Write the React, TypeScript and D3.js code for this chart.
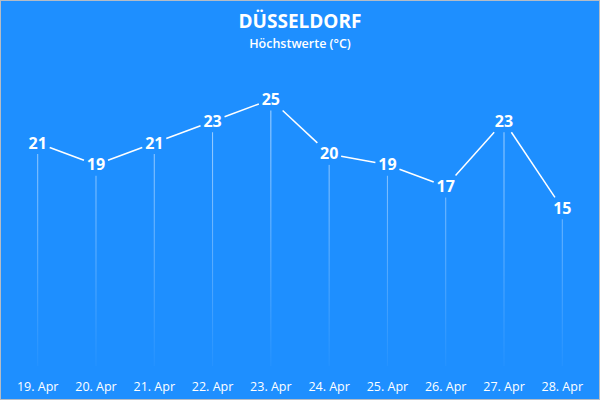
import React, { useEffect } from "react";
import * as d3 from "d3";

const days = ["19. Apr", "20. Apr", "21. Apr", "22. Apr", "23. Apr", "24. Apr", "25. Apr", "26. Apr", "27. Apr", "28. Apr"];
const highs = [21, 19, 21, 23, 25, 20, 19, 17, 23, 15];
const title = "DÜSSELDORF";
const subtitle = "Höchstwerte (°C)";

const W = 600;
const H = 400;
const BG = "#1E8FFF";
const FONT = "'Open Sans', 'Noto Sans', sans-serif";

export default function App() {
  useEffect(() => {
    document.body.style.margin = "0";
  }, []);

  const x = d3.scalePoint<string>().domain(days).range([37.7, 562.3]);
  const y = d3.scaleLinear().domain([0, 25]).range([371.5, 99.5]);

  const hw = 12;
  const hh = 11;
  const clip = (x0: number, y0: number, x1: number, y1: number) => {
    const dx = x1 - x0;
    const dy = y1 - y0;
    const t = Math.min(hw / Math.abs(dx || 1e-9), hh / Math.abs(dy || 1e-9));
    return [x0 + dx * t, y0 + dy * t];
  };

  const pts = days.map((d, i) => ({ d, v: highs[i], px: x(d) as number, py: y(highs[i]) }));
  const segs = pts.slice(1).map((p, i) => {
    const a = pts[i];
    const s = clip(a.px, a.py, p.px, p.py);
    const e = clip(p.px, p.py, a.px, a.py);
    return { s, e };
  });
  const line = d3.line<number[]>().x((p) => p[0]).y((p) => p[1]);

  return (
    <svg width={W} height={H} style={{ position: "absolute", left: 0, top: 0, display: "block" }}>
      <defs>
        <linearGradient id="drop" gradientUnits="userSpaceOnUse" x1="0" y1="100" x2="0" y2="368">
          <stop offset="0" stopColor="#ffffff" stopOpacity={0.65} />
          <stop offset="1" stopColor="#ffffff" stopOpacity={0.03} />
        </linearGradient>
      </defs>
      <rect x={0} y={0} width={W} height={H} fill={BG} />
      <rect x={0.5} y={0.5} width={W - 1} height={H - 1} fill="none" stroke="#b4bcc6" strokeWidth={1} />
      <text x={300} y={28} textAnchor="middle" fill="#fff" fontFamily={FONT} fontWeight={700} fontSize={19}>
        {title}
      </text>
      <text x={300} y={48} textAnchor="middle" fill="#fff" fontFamily={FONT} fontWeight={600} fontSize={12.5}>
        {subtitle}
      </text>
      {pts.map((p) => (
        <line key={"d" + p.d} x1={p.px} x2={p.px} y1={p.py + 11} y2={366} stroke="url(#drop)" strokeWidth={1} />
      ))}
      {segs.map((sg, i) => (
        <path key={"s" + i} d={line([sg.s, sg.e]) || ""} stroke="#fff" strokeWidth={1.5} fill="none" />
      ))}
      {pts.map((p) => (
        <text key={"v" + p.d} x={p.px} y={p.py + 5.5} textAnchor="middle" fill="#fff" fontFamily={FONT} fontWeight={700} fontSize={16}>
          {p.v}
        </text>
      ))}
      {pts.map((p) => (
        <text key={"l" + p.d} x={p.px} y={391} textAnchor="middle" fill="#fff" fontFamily={FONT} fontSize={12.5}>
          {p.d}
        </text>
      ))}
    </svg>
  );
}
